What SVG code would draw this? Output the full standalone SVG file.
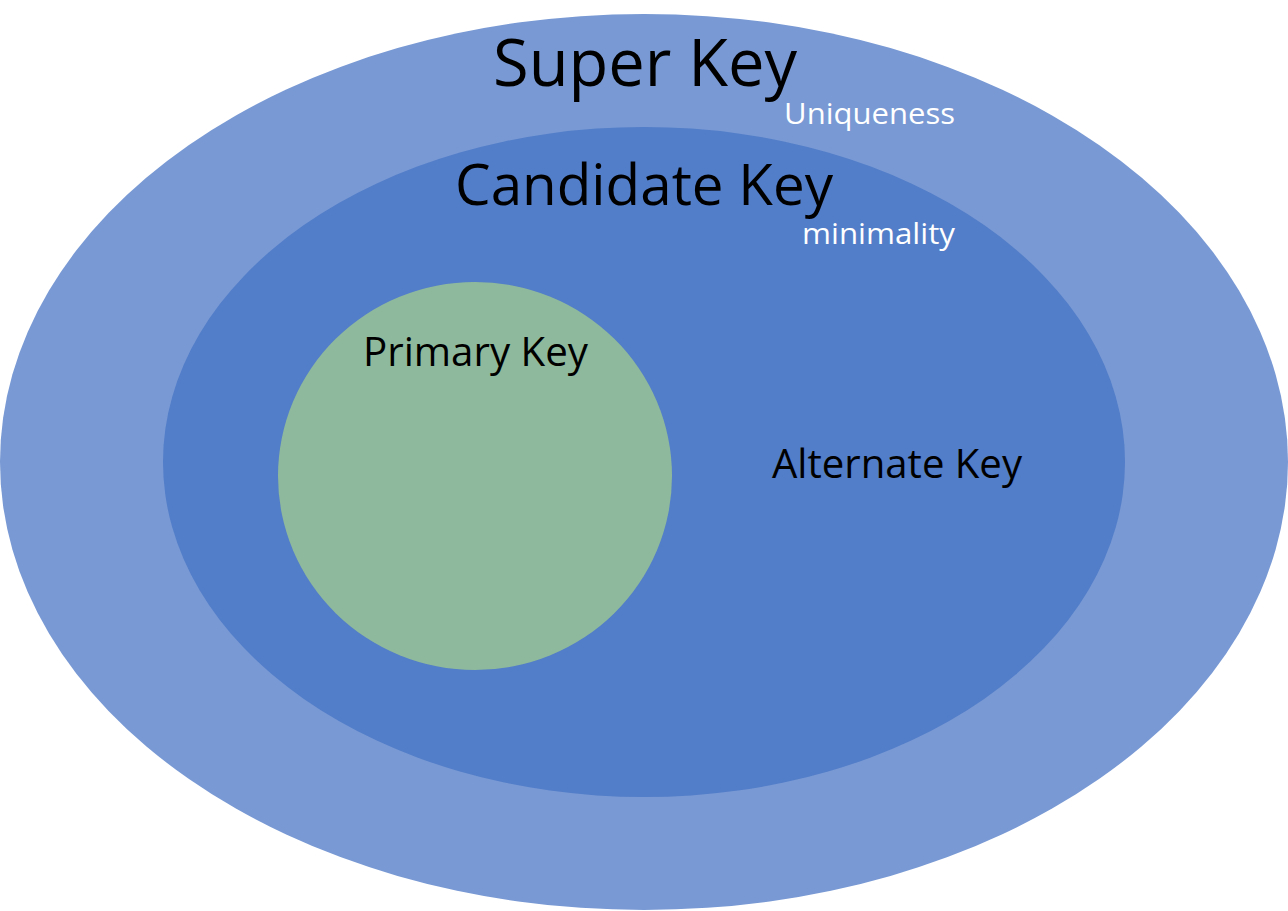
<svg xmlns="http://www.w3.org/2000/svg" width="1288" height="911" viewBox="0 0 1288 911">
<style>
.lbl{font-family:"Open Sans","Noto Sans","Liberation Sans",sans-serif;fill:#000}
.sub{font-family:"Open Sans","Noto Sans","Liberation Sans",sans-serif;fill:#fff}
</style>
<rect width="1288" height="911" fill="#fff"/>
<g id="super-key">
<ellipse cx="644" cy="462" rx="644" ry="448" fill="#7899D4"/>
<text class="lbl" x="493" y="86" font-size="65" textLength="304" lengthAdjust="spacingAndGlyphs">Super Key</text>
<text class="sub" x="784" y="124" font-size="29" textLength="171" lengthAdjust="spacingAndGlyphs">Uniqueness</text>
</g>
<g id="candidate-key">
<ellipse cx="644" cy="462" rx="481" ry="335" fill="#527DC8"/>
<text class="lbl" x="455" y="205" font-size="56" textLength="378" lengthAdjust="spacingAndGlyphs">Candidate Key</text>
<text class="sub" x="802" y="244" font-size="29" textLength="153" lengthAdjust="spacingAndGlyphs">minimality</text>
</g>
<g id="primary-key">
<ellipse cx="475" cy="476" rx="197" ry="194" fill="#8FB99C"/>
<text class="lbl" x="363" y="366" font-size="40" textLength="225" lengthAdjust="spacingAndGlyphs">Primary Key</text>
</g>
<g id="alternate-key">
<text class="lbl" x="772" y="478" font-size="40" textLength="250" lengthAdjust="spacingAndGlyphs">Alternate Key</text>
</g>
<g id="connectors"/>
</svg>
